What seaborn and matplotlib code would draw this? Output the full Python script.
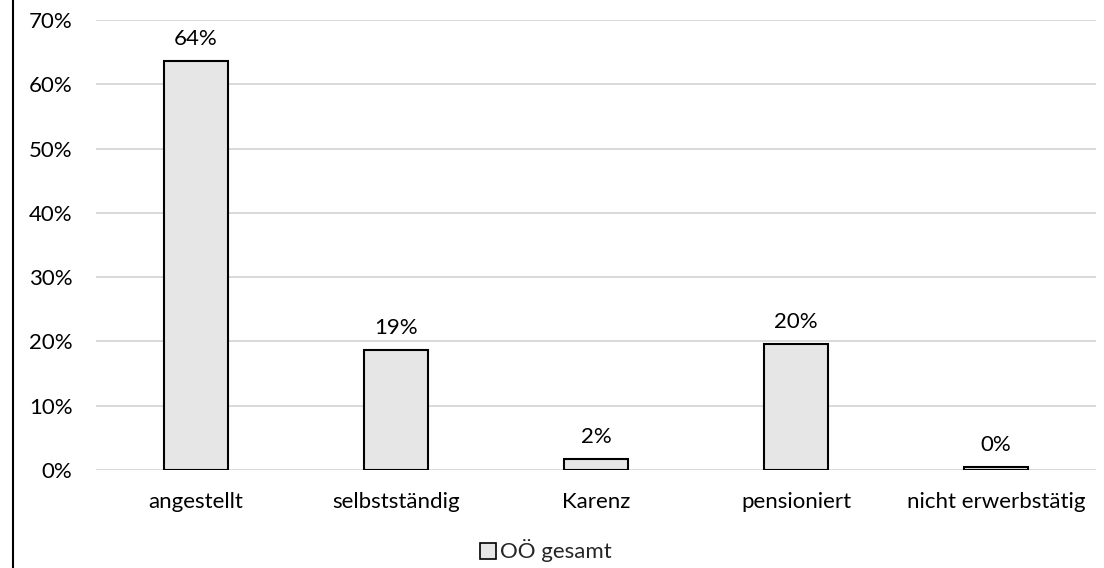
import matplotlib
matplotlib.use("Agg")
import matplotlib.pyplot as plt
import seaborn as sns
import pandas as pd
from matplotlib.patches import Patch
from matplotlib.lines import Line2D

categories = ["angestellt", "selbstständig", "Karenz", "pensioniert", "nicht erwerbstätig"]
values = [63.6, 18.6, 1.7, 19.6, 0.4]
series_name = "OÖ gesamt"
y_ticks = [0, 10, 20, 30, 40, 50, 60, 70]

sns.set_theme(style="white")
plt.rcParams['font.family'] = ['Lato', 'DejaVu Sans']

FS = 16

df = pd.DataFrame({"Kategorie": categories, "Wert": values})

fig = plt.figure(figsize=(11.04, 5.68), dpi=100)
ax = fig.add_axes([96/1104, 1 - 470/568, 1000/1104, 450/568])

sns.barplot(data=df, x="Kategorie", y="Wert", ax=ax, color="#e7e6e6",
            edgecolor="black", linewidth=1.5, width=0.32, saturation=1, zorder=3)

ax.set_ylim(0, 70)
ax.set_xlim(-0.5, len(categories) - 0.5)
ax.set_yticks(y_ticks)
ax.set_yticklabels([f"{t}%" for t in y_ticks], fontsize=FS, color="#000000")
ax.tick_params(axis="y", length=0, pad=17)
ax.tick_params(axis="x", length=0, pad=16, labelsize=FS, labelcolor="#000000")
ax.set_xlabel("")
ax.set_ylabel("")
ax.yaxis.grid(True, color="#d9d9d9", linewidth=1.4, zorder=0)
ax.set_axisbelow(True)
for s in ax.spines.values():
    s.set_visible(False)

for i, v in enumerate(values):
    ax.annotate(f"{round(v):.0f}%", (i, v), xytext=(0, 9), textcoords="offset points",
                ha="center", va="bottom", fontsize=FS, color="#000000")

handle = Patch(facecolor="#e7e6e6", edgecolor="black", linewidth=1.2)
fig.legend([handle], [series_name], loc="center", bbox_to_anchor=(546/1104, 1 - 551/568),
           frameon=False, fontsize=FS, handlelength=0.7, handleheight=0.7,
           handletextpad=0.2)

fig.add_artist(Line2D([13/1104, 13/1104], [0, 1], color="black", linewidth=1.5,
                      transform=fig.transFigure))

fig.savefig("out.png", dpi=100, facecolor="white")
